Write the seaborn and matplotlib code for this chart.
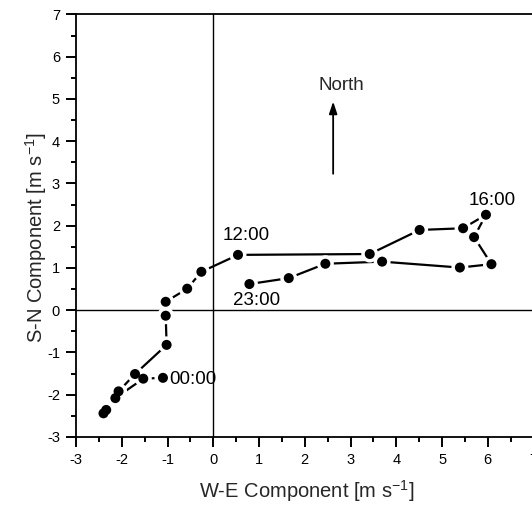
import matplotlib
matplotlib.use("Agg")
import matplotlib.pyplot as plt
from matplotlib.ticker import MultipleLocator
import seaborn as sns
import pandas as pd

# Hourly mean wind components (hodograph), 00:00 .. 23:00
hours = list(range(24))
u_we = [-1.10, -1.53, -2.14, -2.40, -2.34, -2.07, -1.71, -1.02, -1.04, -1.04,
        -0.57, -0.26, 0.54, 3.42, 4.51, 5.46, 5.96, 5.70, 6.08, 5.39,
        3.69, 2.45, 1.65, 0.79]
v_sn = [-1.60, -1.62, -2.08, -2.44, -2.36, -1.92, -1.51, -0.82, -0.13, 0.20,
        0.51, 0.91, 1.31, 1.33, 1.90, 1.94, 2.26, 1.73, 1.09, 1.01,
        1.15, 1.10, 0.76, 0.62]

# Hours that get a time label, with the label anchor position
label_hours = ["00:00", "12:00", "16:00", "23:00"]
label_x = [-0.44, 0.72, 6.10, 0.94]
label_y = [-1.65, 1.78, 2.60, 0.24]

xticks = [-3, -2, -1, 0, 1, 2, 3, 4, 5, 6, 7]
yticks = [-3, -2, -1, 0, 1, 2, 3, 4, 5, 6, 7]

df = pd.DataFrame({"hour": hours, "u": u_we, "v": v_sn})

sns.set_theme(style="white")
plt.rcParams["font.family"] = ["Liberation Sans", "DejaVu Sans"]

fig = plt.figure(figsize=(5.32, 5.15), dpi=100)
ax = fig.add_axes([0.1429, 0.1515, 0.8600, 0.8204])

# zero lines
ax.axhline(0, color="black", lw=1.0, zorder=1)
ax.axvline(0, color="black", lw=1.0, zorder=1)

# trajectory line
sns.lineplot(data=df, x="u", y="v", sort=False, estimator=None,
             color="black", lw=1.6, ax=ax, zorder=2)
# white halo so the line stops short of each marker
sns.scatterplot(data=df, x="u", y="v", s=150, color="white",
                edgecolor="none", linewidth=0, ax=ax, zorder=3)
sns.scatterplot(data=df, x="u", y="v", s=52, color="black",
                edgecolor="none", linewidth=0, ax=ax, zorder=4)

for txt, tx, ty in zip(label_hours, label_x, label_y):
    ax.text(tx, ty, txt, fontsize=13.5, ha="center", va="center",
            color="black", zorder=5)

# north arrow
ax.annotate("", xy=(2.62, 4.94), xytext=(2.62, 3.23),
            arrowprops=dict(arrowstyle="-|>,head_length=0.6,head_width=0.2",
                            color="black", lw=1.3, shrinkA=0, shrinkB=0))
ax.text(2.80, 5.32, "North", fontsize=13.5, ha="center", va="center")

ax.set_xlim(-3, 7)
ax.set_ylim(-3, 7)
ax.set_xticks(xticks)
ax.set_yticks(yticks)
ax.set_xticklabels([str(t) for t in xticks])
ax.set_yticklabels([str(t) for t in yticks])
ax.xaxis.set_minor_locator(MultipleLocator(0.5))
ax.yaxis.set_minor_locator(MultipleLocator(0.5))
ax.tick_params(axis="both", which="major", direction="out", length=7,
               width=1.4, labelsize=10.5, color="black", labelcolor="black",
               bottom=True, left=True, top=False, right=False, pad=4.5)
ax.tick_params(axis="both", which="minor", direction="out", length=3.6,
               width=1.4, color="black", bottom=True, left=True,
               top=False, right=False)

for side in ["left", "bottom", "top", "right"]:
    ax.spines[side].set_color("black")
    ax.spines[side].set_linewidth(1.3)

ax.set_xlabel("W-E Component [m s$^{\\mathregular{-1}}$]", fontsize=14.5)
ax.set_ylabel("S-N Component [m s$^{\\mathregular{-1}}$]", fontsize=14.5)
ax.xaxis.set_label_coords(0.504, -0.097)
ax.yaxis.set_label_coords(-0.058, 0.472)

fig.savefig("out.png", dpi=100)
